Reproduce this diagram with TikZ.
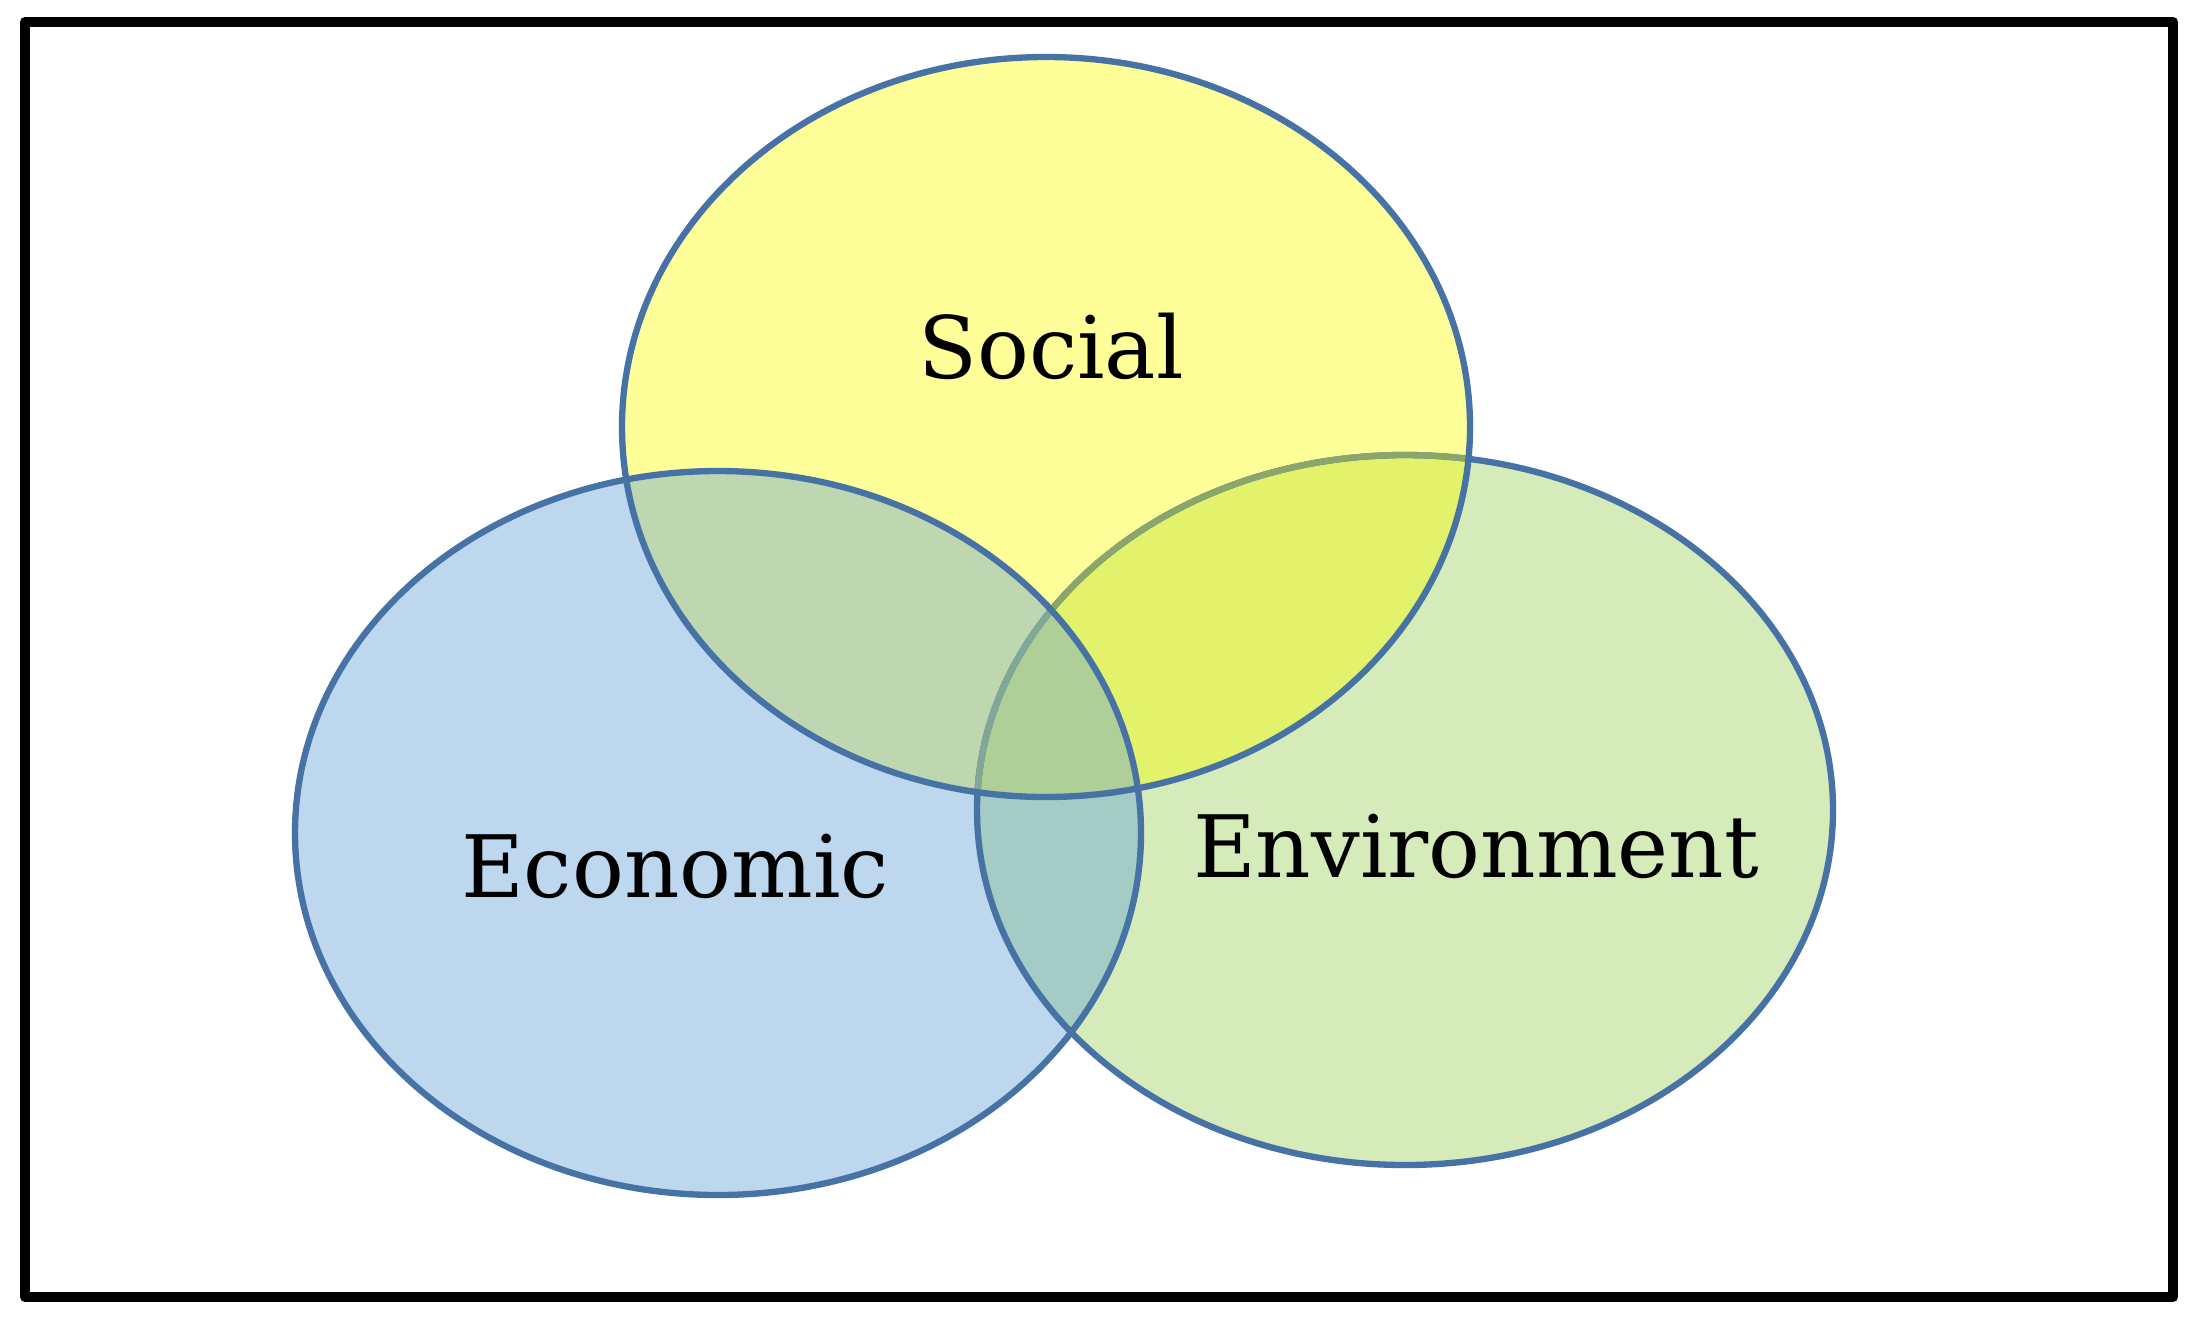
\documentclass[tikz,border=0pt]{standalone}
\usepackage{fontspec}
\setmainfont{DejaVu Serif}
\definecolor{socialfill}{HTML}{FFFF99}
\definecolor{econfill}{HTML}{BDD7EE}
\definecolor{envfill}{HTML}{D5EBBA}
\definecolor{socecon}{HTML}{BFD7B0}
\definecolor{socenv}{HTML}{E2F26B}
\definecolor{econenv}{HTML}{A5CCC4}
\definecolor{allthree}{HTML}{AFCF98}
\definecolor{rimblue}{HTML}{4672A6}
\definecolor{rimolive}{HTML}{8AA66A}
\definecolor{rimteal}{HTML}{7FA898}
\begin{document}
\begin{tikzpicture}[x=0.01cm, y=-0.01cm, line join=round, line cap=round,
  rim/.style={draw=rimblue, line width=1.8pt},
  label/.style={anchor=base, font=\fontsize{24.5}{30}\selectfont}]
\def\social{(1046,427) ellipse [x radius=424, y radius=370]}
\def\econ{(718,833) ellipse [x radius=423, y radius=362]}
\def\env{(1405,810) ellipse [x radius=428, y radius=355]}
\useasboundingbox (0,0) rectangle (2198,1330);
\fill[white] (0,0) rectangle (2198,1330);
\fill[socialfill] \social;
\fill[econfill] \econ;
\fill[envfill] \env;
\begin{scope}\clip \social; \fill[socecon] \econ; \fill[socenv] \env; \end{scope}
\begin{scope}\clip \econ; \fill[econenv] \env; \clip \social; \fill[allthree] \env; \end{scope}
\draw[rim] \env;
\begin{scope}\clip \social; \draw[rim, draw=rimolive] \env; \clip \econ; \draw[rim, draw=rimteal] \env; \end{scope}
\draw[rim] \social;
\draw[rim] \econ;
\draw[line width=2.85pt] (25,22) rectangle (2173,1297);
\node[label] (social) at (1051,378) {Social};
\node[label] (economic) at (675,897) {Economic};
\node[label] (environment) at (1476,877) {Environment};
\end{tikzpicture}
\end{document}
